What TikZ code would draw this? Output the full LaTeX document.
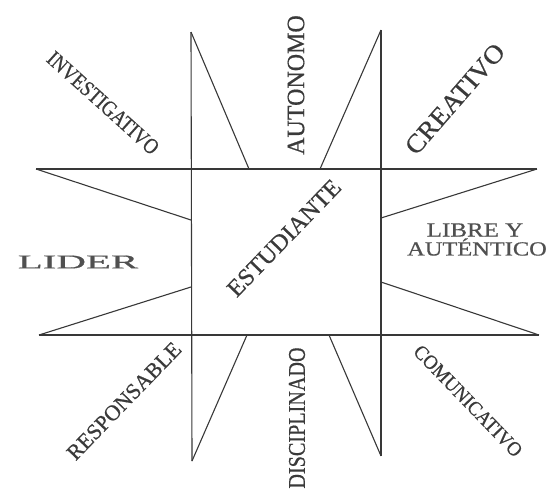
\documentclass[tikz,border=0pt]{standalone}
\usepackage{fontspec}
\setmainfont{Liberation Serif}[FakeBold=0.6]
\usepackage{graphicx}
\definecolor{ink}{HTML}{3A3A3A}
\definecolor{inkl}{HTML}{505050}
\definecolor{linec}{HTML}{383838}
\tikzset{
  starline/.style={draw=linec, line width=1.1pt},
  lbl/.style={text=ink, inner sep=0pt, anchor=center},
}
\newcommand{\fs}[1]{\fontsize{#1}{#1}\selectfont}
\begin{document}
\begin{tikzpicture}[x=1pt,y=-1pt]
\useasboundingbox (0,0) rectangle (548,493);
% frame coordinates
\coordinate (vlT) at (191,32);
\coordinate (vlB) at (192,461);
\coordinate (vrT) at (381,30);
\coordinate (vrB) at (381,456);
\coordinate (htL) at (36,169);
\coordinate (htR) at (537,169);
\coordinate (hbL) at (39,335);
\coordinate (hbR) at (539,335);
% triangle feet
\coordinate (t1) at (249,169);
\coordinate (t2) at (320,169);
\coordinate (l1) at (191,220);
\coordinate (l2) at (191,287);
\coordinate (r1) at (381,218);
\coordinate (r2) at (381,282);
\coordinate (b1) at (247,335);
\coordinate (b2) at (329,335);
% main lines
\draw[starline] (vlT) -- (vlB);
\draw[starline] (vrT) -- (vrB);
\draw[starline] (htL) -- (htR);
\draw[starline] (hbL) -- (hbR);
% spikes
\draw[starline] (vlT) -- (t1);
\draw[starline] (vrT) -- (t2);
\draw[starline] (htL) -- (l1);
\draw[starline] (hbL) -- (l2);
\draw[starline] (htR) -- (r1);
\draw[starline] (hbR) -- (r2);
\draw[starline] (vlB) -- (b1);
\draw[starline] (vrB) -- (b2);
% labels
\node[lbl, rotate=-42, font=\fs{22}] (inv) at (103,103) {\scalebox{0.85}[1]{INVESTIGATIVO}};
\node[lbl, rotate=90, font=\fs{25}] (aut) at (296,85) {\scalebox{0.96}[1]{AUTONOMO}};
\node[lbl, rotate=49, font=\fs{26}] (cre) at (455,99) {\scalebox{1.07}[1]{CREATIVO}};
\node[lbl, rotate=46, font=\fs{24}] (est) at (284,238) {\scalebox{1.02}[1]{ESTUDIANTE}};
\node[lbl, text=inkl, font=\fs{19.5}] (lid) at (78,262) {\scalebox{2.1}[1]{LIDER}};
\node[lbl, text=inkl, font=\fs{20}] (lib1) at (475,230) {\scalebox{1.25}[1]{LIBRE Y}};
\node[lbl, text=inkl, font=\fs{20}] (lib2) at (477,247) {\scalebox{1.22}[1]{AUTÉNTICO}};
\node[lbl, rotate=46, font=\fs{22}] (res) at (124,401) {\scalebox{1.0}[1]{RESPONSABLE}};
\node[lbl, rotate=90, font=\fs{24}] (dis) at (297,418) {\scalebox{0.84}[1]{DISCIPLINADO}};
\node[lbl, rotate=-46, font=\fs{20}] (com) at (468,401) {\scalebox{0.95}[1]{COMUNICATIVO}};
\end{tikzpicture}
\end{document}
